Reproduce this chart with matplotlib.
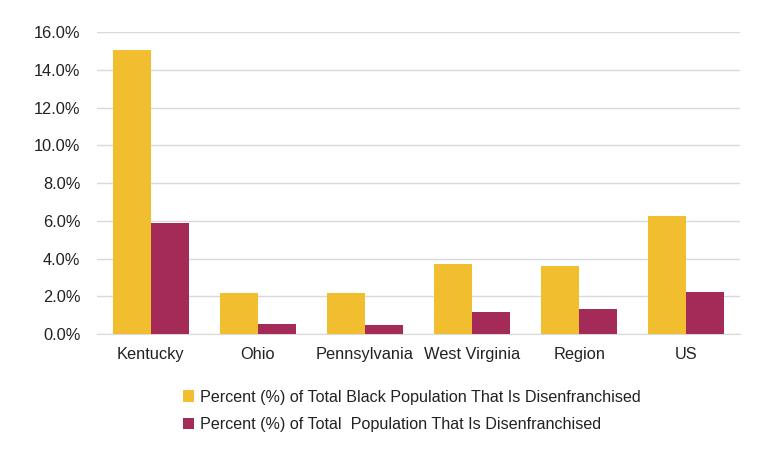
import numpy as np
import matplotlib
matplotlib.use("Agg")
import matplotlib.pyplot as plt
from matplotlib.ticker import FuncFormatter

plt.rcParams["font.family"] = ["Liberation Sans", "DejaVu Sans"]

categories = ["Kentucky", "Ohio", "Pennsylvania", "West Virginia", "Region", "US"]
black_pct = [15.07, 2.16, 2.16, 3.71, 3.61, 6.28]
total_pct = [5.90, 0.53, 0.48, 1.17, 1.33, 2.23]
labels = ["Percent (%) of Total Black Population That Is Disenfranchised",
          "Percent (%) of Total  Population That Is Disenfranchised"]
gold, maroon = "#F1BE2F", "#A42A57"

fig = plt.figure(figsize=(7.64, 4.58), dpi=100)
ax = fig.add_axes([0.127, 0.2707, 0.8416, 0.6593])

x = np.arange(len(categories))
w = 0.355
b1 = ax.bar(x - w / 2, black_pct, w, color=gold, label=labels[0], zorder=3)
b2 = ax.bar(x + w / 2, total_pct, w, color=maroon, label=labels[1], zorder=3)

ax.set_xlim(-0.5, len(categories) - 0.5)
ax.set_ylim(0, 16)
ax.set_yticks(np.arange(0, 16.1, 2))
ax.yaxis.set_major_formatter(FuncFormatter(lambda v, p: f"{v:.1f}%"))
ax.grid(axis="y", color="#D9D9D9", lw=1, zorder=0)
for s in ["top", "right", "left"]:
    ax.spines[s].set_visible(False)
ax.spines["bottom"].set_color("#D9D9D9")
ax.tick_params(length=0, labelsize=11.8, colors="#222222")
ax.tick_params(axis="y", pad=12)
ax.tick_params(axis="x", pad=9)
ax.set_xticks(x)
ax.set_xticklabels(categories)

fig.legend(handles=[b1, b2], labels=labels, loc="upper left",
           bbox_to_anchor=(0.229, 0.167), frameon=False, fontsize=11.6,
           handlelength=0.7, handleheight=0.7, handletextpad=0.35,
           labelspacing=0.78, borderpad=0, labelcolor="#222222")

fig.savefig("out.png", dpi=100)
